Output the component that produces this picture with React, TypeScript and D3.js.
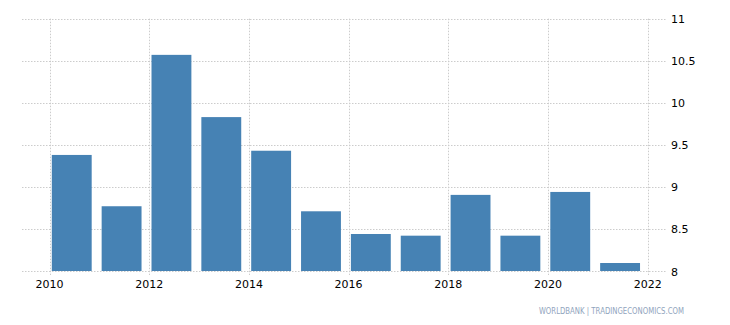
import React from "react";
import * as d3 from "d3";

const years = [2010, 2011, 2012, 2013, 2014, 2015, 2016, 2017, 2018, 2019, 2020, 2021];
const values = [9.38, 8.77, 10.57, 9.83, 9.43, 8.71, 8.44, 8.42, 8.905, 8.42, 8.94, 8.095];
const xTicks = [2010, 2012, 2014, 2016, 2018, 2020, 2022];
const yTicks = [8, 8.5, 9, 9.5, 10, 10.5, 11];

export default function App() {
  const W = 730, H = 325;
  const x = d3.scaleLinear().domain([2010, 2022]).range([49.5, 647.7]);
  const y = d3.scaleLinear().domain([8, 11]).range([271, 18.7]);
  const slot = x(2011) - x(2010);
  const barW = slot * 0.8;
  const grid = "#cccccc";
  return (
    <svg width={W} height={H} style={{ position: "absolute", left: 0, top: 0 }} fontFamily="'DejaVu Sans', Verdana, sans-serif">
      <rect width={W} height={H} fill="#fff" />
      {yTicks.map((t) => (
        <line key={"h" + t} x1={22} x2={667} y1={Math.round(y(t)) + 0.5} y2={Math.round(y(t)) + 0.5} stroke={grid} strokeDasharray="1.5,1.5" />
      ))}
      {xTicks.map((t) => (
        <line key={"v" + t} x1={Math.round(x(t)) + 0.5} x2={Math.round(x(t)) + 0.5} y1={y(11)} y2={y(8) + 4} stroke={grid} strokeDasharray="1.5,1.5" />
      ))}
      {years.map((yr, i) => (
        <rect key={yr} x={x(yr) + 2.3} y={y(values[i])} width={barW} height={y(8) - y(values[i])} fill="#4682b4" />
      ))}
      {xTicks.map((t) => (
        <text key={"xl" + t} x={x(t)} y={288} textAnchor="middle" fontSize={11} fill="#000">{t}</text>
      ))}
      {yTicks.map((t) => (
        <text key={"yl" + t} x={671} y={y(t) + 4.5} fontSize={11} fill="#000">{t}</text>
      ))}
      <text x={539} y={314} fontSize={8} textLength={145} lengthAdjust="spacingAndGlyphs" fill="#90a4bd">WORLDBANK | TRADINGECONOMICS.COM</text>
    </svg>
  );
}
